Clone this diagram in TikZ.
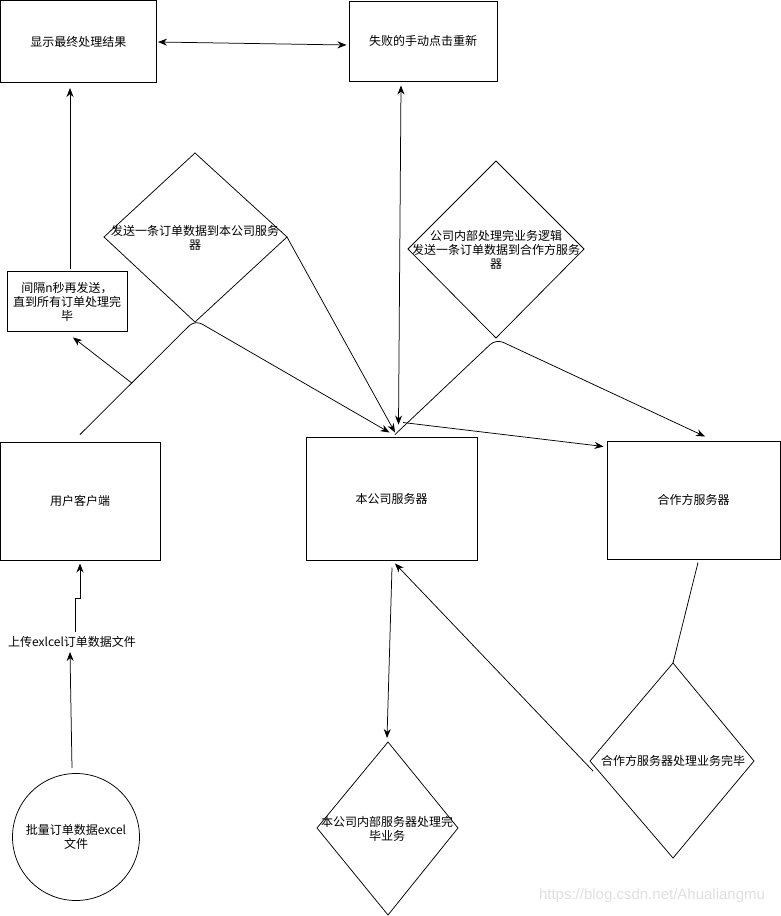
\documentclass[tikz,border=0pt]{standalone}
\usepackage{fontspec}
\newfontfamily\cjk{Noto Sans CJK SC}
\newfontfamily\wmfont{Liberation Sans}
\usetikzlibrary{arrows.meta,calc}
\begin{document}
\begin{tikzpicture}[x=1pt,y=-1pt,
  txt/.style={inner sep=0pt,font=\cjk\fontsize{12}{14}\selectfont,align=center},
  box/.style={txt,draw,line width=1pt},
  dia/.style={draw,line width=0.75pt,line join=miter},
  con/.style={draw,line width=0.75pt},
  arr/.style={con,-{Stealth[length=9pt,width=7pt]}},
  darr/.style={con,{Stealth[length=9pt,width=7pt]}-{Stealth[length=9pt,width=7pt]}},
]
\fill[white] (0,0) rectangle (781,916);
\useasboundingbox (0,0) rectangle (781,916);

% boxes
\node[box,minimum width=156pt,minimum height=82pt] (res) at (78.5,41.5) {显示最终处理结果};
\node[box,minimum width=148pt,minimum height=80pt] (retry) at (423,41) {失败的手动点击重新};
\node[box,minimum width=160pt,minimum height=118pt] (client) at (80,501) {用户客户端};
\node[box,minimum width=171pt,minimum height=123pt] (srv) at (391.5,498.5) {本公司服务器};
\node[box,minimum width=173pt,minimum height=118pt] (partner) at (693.5,500) {合作方服务器};
\node[box,line width=0.9pt,minimum width=120pt,minimum height=60pt] (wait) at (67,301) {};
\node[txt] (waittxt) at (67,302) {间隔n秒再发送，\\直到所有订单处理完\\毕};

% diamonds
\coordinate (d1t) at (195,153); \coordinate (d1r) at (287,237);
\coordinate (d1b) at (195,322); \coordinate (d1l) at (104,237);
\draw[dia] (d1t) -- (d1r) -- (d1b) -- (d1l) -- cycle;
\node[txt] (d1) at (195,238) {发送一条订单数据到本公司服务\\器};

\coordinate (d2t) at (496,161); \coordinate (d2r) at (584,249);
\coordinate (d2b) at (496,338); \coordinate (d2l) at (408,249);
\draw[dia] (d2t) -- (d2r) -- (d2b) -- (d2l) -- cycle;
\node[txt] (d2) at (496,250) {公司内部处理完业务逻辑\\发送一条订单数据到合作方服务\\器};

\coordinate (d3t) at (388,742); \coordinate (d3r) at (458,828);
\coordinate (d3b) at (388,915); \coordinate (d3l) at (317,828);
\draw[dia] (d3t) -- (d3r) -- (d3b) -- (d3l) -- cycle;
\node[txt] (d3) at (387,829) {本公司内部服务器处理完\\毕业务};

\coordinate (d4t) at (673,663); \coordinate (d4r) at (754,761);
\coordinate (d4b) at (673,858); \coordinate (d4l) at (590,761);
\draw[dia] (d4t) -- (d4r) -- (d4b) -- (d4l) -- cycle;
\node[txt] (d4) at (673,761) {合作方服务器处理业务完毕};

% circle and label
\node[txt,draw,circle,line width=0.75pt,minimum size=127pt] (file) at (76,837) {批量订单数据excel\\文件};
\node[txt] (upl) at (72,642) {上传exlcel订单数据文件};

% connectors
\draw[darr] ($(res.east)+(1,0.5)$) -- ($(retry.west)+(-2,4)$);
\draw[arr] ($(wait.north)+(3,-2)$) -- ($(res.south)+(-8.5,5)$);
\draw[darr] ($(retry.south)+(-22,4)$) -- ($(srv.north)+(7,-12)$);

\coordinate (c1) at (195,320);
\coordinate (cs) at ($(client.north)+(0,-7)$);
\draw[arr,rounded corners=8pt] (cs) -- (c1) -- ($(srv.north)+(-2,-4)$);
\draw[arr] ($(cs)!0.45!(c1)$) -- ($(wait.south)+(6,6)$);
\draw[arr] (d1r) -- ($(srv.north)+(3.5,-4)$);

\coordinate (c2) at (496,339);
\draw[arr,rounded corners=8pt] ($(srv.north)+(3.5,-2)$) -- (c2) -- ($(partner.north)+(11.5,-4)$);
\draw[arr] ($(srv.north)+(11.5,-14)$) -- ($(partner.north west)+(-3,6)$);

\draw[arr] ($(srv.south)+(0.5,7)$) -- ($(d3t)+(-1,-4)$);
\draw[arr] ($(d4l)+(3,10)$) -- ($(srv.south)+(3.5,3)$);
\draw[con] ($(partner.south)+(4.5,3)$) -- (d4t);

\draw[arr] ($(file.north)+(-4,-5)$) -- ($(upl.center)+(-2,10)$);
\draw[arr] ($(upl.center)+(3,-10)$) -- ++(0,-34) -- ++(5,0) -- ($(client.south)+(0,3)$);

% watermark
\node[font=\wmfont\fontsize{15}{18}\selectfont,text=black!12,inner sep=0pt] (wm) at (652,896) {https://blog.csdn.net/Ahualiangmu};
\end{tikzpicture}
\end{document}
